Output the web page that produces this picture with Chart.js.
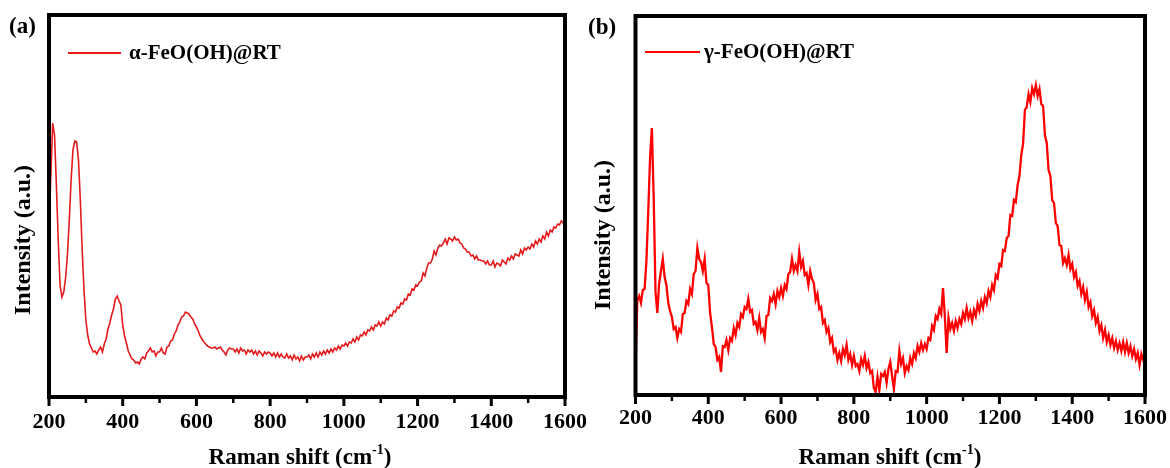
<!DOCTYPE html>
<html>
<head>
<meta charset="utf-8">
<script src="https://cdn.jsdelivr.net/npm/chart.js@4.4.0/dist/chart.umd.min.js"></script>
<style>
  html, body { margin: 0; padding: 0; background: #fff; }
  #wrap { position: relative; width: 1170px; height: 468px; overflow: hidden; background: #fff; }
  canvas { position: absolute; top: 0; }
  #chartA { left: 0; }
  #chartB { left: 585px; }
</style>
</head>
<body>
<div id="wrap">
  <canvas id="chartA" width="600" height="468"></canvas>
  <canvas id="chartB" width="600" height="468"></canvas>
</div>
<script>
// Raman shift grid, cm-1 (5 cm-1 sampling from 200 to 1600)
const shiftStart = 200;
const shiftStep = 5;
const ramanShift = Array.from({ length: 281 }, (_, i) => shiftStart + i * shiftStep);

// x-axis tick labels and tick marks
const shiftTicks = [200, 400, 600, 800, 1000, 1200, 1400, 1600];
const shiftMinorTicks = [300, 500, 700, 900, 1100, 1300, 1500];

// α-FeO(OH) at room temperature, intensity (a.u.)
const alphaIntensity = [
  167, 222, 274, 262, 212, 157, 112, 100, 105, 119, 142, 177, 217, 247, 256, 255, 237, 197, 147, 107,
  77, 62, 53, 49, 45, 46, 43, 47, 50, 45, 53, 58, 68, 74, 82, 88, 98, 101, 96, 92,
  72, 61, 54, 46, 42, 38, 37, 34, 35, 33, 38, 40, 38, 44, 46, 49, 45, 46, 41, 45,
  45, 49, 44, 43, 50, 51, 56, 57, 63, 66, 72, 75, 80, 81, 85, 84, 83, 80, 78, 73,
  70, 66, 61, 58, 55, 53, 51, 50, 49, 49, 50, 48, 49, 50, 47, 45, 42, 47, 49, 48,
  48, 45, 48, 44, 49, 46, 47, 43, 47, 45, 47, 43, 46, 42, 46, 44, 41, 45, 43, 45,
  44, 41, 44, 40, 44, 40, 43, 40, 39, 43, 39, 41, 37, 42, 38, 40, 36, 41, 37, 40,
  40, 42, 38, 43, 40, 44, 40, 45, 42, 46, 43, 47, 44, 48, 45, 49, 47, 51, 48, 52,
  51, 54, 51, 55, 54, 58, 55, 60, 57, 62, 61, 65, 62, 67, 66, 70, 67, 72, 71, 75,
  71, 75, 73, 79, 77, 82, 81, 86, 85, 90, 89, 94, 93, 98, 97, 103, 102, 108, 107, 112,
  111, 115, 116, 124, 121, 129, 134, 134, 138, 146, 142, 149, 152, 151, 154, 158, 153, 159, 158, 156,
  160, 157, 158, 154, 153, 149, 148, 145, 145, 141, 142, 138, 141, 137, 137, 136, 136, 133, 136, 132,
  132, 136, 130, 134, 133, 131, 137, 135, 133, 139, 137, 141, 138, 143, 142, 141, 147, 143, 149, 147,
  150, 148, 153, 150, 156, 153, 158, 155, 161, 158, 165, 161, 167, 165, 170, 169, 173, 172, 176, 174, 178
];

// γ-FeO(OH) at room temperature, intensity (a.u.)
const gammaIntensity = [
  26, 93, 97, 90, 103, 104, 132, 181, 235, 265, 195, 101, 80, 110, 122, 134, 116, 108, 90, 82,
  76, 64, 66, 55, 64, 61, 79, 80, 92, 89, 104, 99, 119, 122, 145, 134, 131, 122, 134, 110,
  108, 80, 66, 49, 46, 33, 36, 21, 47, 46, 53, 43, 55, 52, 65, 58, 70, 66, 79, 76,
  86, 84, 94, 81, 83, 69, 71, 63, 75, 61, 64, 55, 77, 78, 95, 92, 99, 89, 102, 96,
  105, 97, 108, 104, 119, 121, 134, 122, 128, 122, 141, 126, 132, 118, 120, 108, 122, 114, 110, 93,
  99, 84, 86, 70, 73, 61, 65, 51, 55, 41, 44, 33, 40, 32, 44, 38, 48, 33, 39, 28,
  37, 27, 29, 22, 34, 28, 37, 25, 31, 20, 22, 5, 1, 16, 3, 19, 17, 21, 10, 24,
  31, 17, 4, 22, 21, 42, 29, 35, 20, 27, 23, 35, 29, 40, 35, 47, 41, 50, 43, 49,
  44, 55, 53, 67, 63, 77, 74, 84, 79, 105, 77, 40, 75, 64, 70, 62, 72, 65, 74, 69,
  80, 74, 85, 75, 81, 72, 83, 77, 89, 82, 92, 85, 96, 90, 102, 96, 108, 103, 118, 115,
  129, 127, 143, 142, 155, 157, 178, 177, 193, 191, 208, 217, 238, 249, 283, 286, 299, 291, 305, 299,
  308, 297, 304, 289, 287, 258, 250, 223, 217, 193, 190, 170, 167, 148, 147, 130, 135, 128, 138, 124,
  129, 116, 121, 107, 112, 99, 106, 93, 101, 86, 91, 77, 83, 70, 76, 62, 68, 55, 63, 51,
  58, 48, 55, 45, 52, 43, 50, 42, 51, 41, 50, 40, 47, 37, 44, 34, 40, 28, 39, 33, 40
];

const SERIF = '"Liberation Serif", "Times New Roman", serif';

function toPoints(values) {
  return values.map((v, i) => ({ x: ramanShift[i], y: v }));
}

// frame, tick marks, axis titles, panel tag and legend
const panelDecor = {
  id: 'panelDecor',
  afterDatasetsDraw(chart, args, opts) {
    const { ctx, chartArea: a } = chart;
    const xs = chart.scales.x;
    ctx.save();
    ctx.strokeStyle = '#000';
    ctx.lineCap = 'butt';

    shiftTicks.forEach(v => {
      const px = xs.getPixelForValue(v);
      ctx.lineWidth = 3;
      ctx.beginPath();
      ctx.moveTo(px, a.bottom);
      ctx.lineTo(px, a.bottom + 9);
      ctx.stroke();
    });
    shiftMinorTicks.forEach(v => {
      const px = xs.getPixelForValue(v);
      ctx.lineWidth = 2.5;
      ctx.beginPath();
      ctx.moveTo(px, a.bottom);
      ctx.lineTo(px, a.bottom + 6);
      ctx.stroke();
    });

    ctx.lineWidth = 4;
    ctx.strokeRect(a.left, a.top, a.right - a.left, a.bottom - a.top);

    ctx.fillStyle = '#000';
    ctx.textBaseline = 'middle';

    // panel tag
    ctx.font = `bold 23px ${SERIF}`;
    ctx.textAlign = 'left';
    ctx.fillText(opts.tag, opts.tagX, opts.tagY);

    // y title
    ctx.save();
    ctx.translate(opts.yTitleX, opts.yTitleY);
    ctx.rotate(-Math.PI / 2);
    ctx.textAlign = 'center';
    ctx.font = `bold 24px ${SERIF}`;
    ctx.fillText('Intensity (a.u.)', 0, 0);
    ctx.restore();

    // x title with superscript
    ctx.textBaseline = 'alphabetic';
    const main1 = 'Raman shift (cm';
    const sup = '-1';
    const main2 = ')';
    ctx.font = `bold 23px ${SERIF}`;
    const w1 = ctx.measureText(main1).width;
    const w3 = ctx.measureText(main2).width;
    ctx.font = `bold 14px ${SERIF}`;
    const w2 = ctx.measureText(sup).width;
    let tx = opts.xTitleX - (w1 + w2 + w3) / 2;
    ctx.font = `bold 23px ${SERIF}`;
    ctx.fillText(main1, tx, opts.xTitleY);
    tx += w1;
    ctx.font = `bold 14px ${SERIF}`;
    ctx.fillText(sup, tx, opts.xTitleY - 10);
    tx += w2;
    ctx.font = `bold 23px ${SERIF}`;
    ctx.fillText(main2, tx, opts.xTitleY);

    // legend entry
    const ds = chart.data.datasets[0];
    ctx.strokeStyle = ds.borderColor;
    ctx.lineWidth = 2;
    ctx.beginPath();
    ctx.moveTo(opts.legendX, opts.legendY);
    ctx.lineTo(opts.legendX + opts.legendLine, opts.legendY);
    ctx.stroke();
    ctx.font = `bold 21px ${SERIF}`;
    ctx.textBaseline = 'middle';
    ctx.textAlign = 'left';
    ctx.fillText(ds.label, opts.legendX + opts.legendLine + opts.legendGap, opts.legendY + 1);

    ctx.restore();
  }
};

function makePanel(canvasId, label, values, color, lw, yMin, yMax, pad, xHeight, tickPad, decor) {
  return new Chart(document.getElementById(canvasId), {
    type: 'line',
    data: {
      datasets: [{
        label: label,
        data: toPoints(values),
        borderColor: color,
        borderWidth: lw,
        pointRadius: 0,
        tension: 0,
        fill: false
      }]
    },
    options: {
      responsive: false,
      animation: false,
      events: [],
      layout: { padding: pad },
      plugins: {
        legend: { display: false },
        tooltip: { enabled: false },
        panelDecor: decor
      },
      scales: {
        x: {
          type: 'linear',
          min: 200,
          max: 1600,
          afterFit(scale) { scale.height = xHeight; },
          afterBuildTicks(scale) { scale.ticks = shiftTicks.map(v => ({ value: v })); },
          grid: { display: false, drawTicks: false },
          border: { display: false },
          ticks: {
            autoSkip: false,
            maxRotation: 0,
            padding: tickPad,
            color: '#000',
            font: { family: SERIF, size: 22, weight: 'bold' },
            callback: v => String(v)
          }
        },
        y: {
          display: false,
          min: yMin,
          max: yMax
        }
      }
    },
    plugins: [panelDecor]
  });
}

makePanel('chartA', 'α-FeO(OH)@RT', alphaIntensity, '#e41a1c', 1.6, 0, 382,
  { left: 49, top: 15, right: 35, bottom: 0 }, 71, 12,
  { tag: '(a)', tagX: 9, tagY: 27, yTitleX: 24, yTitleY: 240, xTitleX: 300, xTitleY: 464,
    legendX: 68, legendY: 53, legendLine: 53, legendGap: 8 });

makePanel('chartB', 'γ-FeO(OH)@RT', gammaIntensity, '#ff0000', 2.3, -2, 377,
  { left: 50.5, top: 16, right: 40, bottom: 0 }, 73, 10,
  { tag: '(b)', tagX: 3, tagY: 28, yTitleX: 19, yTitleY: 235, xTitleX: 305, xTitleY: 464,
    legendX: 60, legendY: 52, legendLine: 55, legendGap: 4 });
</script>
</body>
</html>
